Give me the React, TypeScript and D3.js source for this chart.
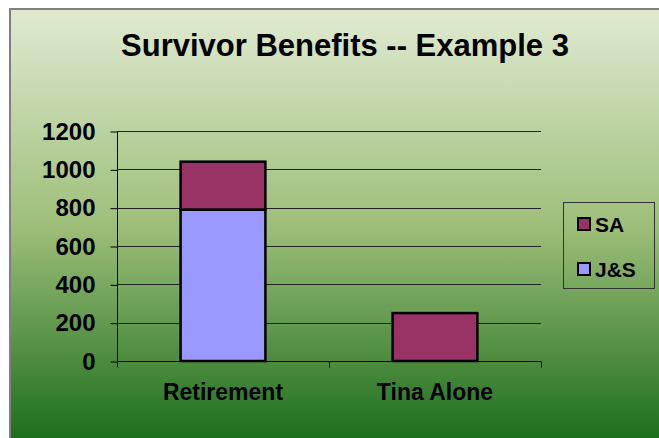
import React, { useEffect, useRef } from 'react';
import * as d3 from 'd3';

// chart data
const categories = ['Retirement', 'Tina Alone'];
const seriesNames = ['J&S', 'SA'];
const jsValues = [790, 0];
const saValues = [250, 250];
const yTicks = [0, 200, 400, 600, 800, 1000, 1200];
const legendItems = ['SA', 'J&S'];
const title = 'Survivor Benefits -- Example 3';

const seriesColors: Record<string, string> = { 'J&S': '#9999ff', SA: '#993366' };

const App = () => {
  const svgRef = useRef<SVGSVGElement | null>(null);

  useEffect(() => {
    const svg = d3.select(svgRef.current);
    svg.selectAll('*').remove();

    const width = 659;
    const height = 438;
    const plot = { left: 117, right: 541, top: 131, bottom: 361 };
    const font = 'Arial, "Liberation Sans", sans-serif';

    // background gradient
    const defs = svg.append('defs');
    const grad = defs.append('linearGradient')
      .attr('id', 'bg')
      .attr('x1', 0).attr('y1', 0).attr('x2', 0).attr('y2', 1);
    grad.append('stop').attr('offset', '0%').attr('stop-color', '#e0ead2');
    grad.append('stop').attr('offset', '50%').attr('stop-color', '#9ebf7a');
    grad.append('stop').attr('offset', '100%').attr('stop-color', '#1d6e1d');

    svg.append('rect')
      .attr('x', 10).attr('y', 9)
      .attr('width', width - 9).attr('height', height - 8)
      .attr('fill', 'url(#bg)')
      .attr('stroke', '#808080')
      .attr('stroke-width', 2);

    // title
    svg.append('text')
      .attr('x', 345)
      .attr('y', 56)
      .attr('text-anchor', 'middle')
      .style('font-family', font)
      .style('font-weight', 'bold')
      .style('font-size', '31px')
      .text(title);

    // scales
    const x = d3.scaleBand()
      .domain(categories)
      .range([plot.left, plot.right])
      .paddingInner(0)
      .paddingOuter(0);

    const y = d3.scaleLinear()
      .domain([0, 1200])
      .range([plot.bottom, plot.top]);

    const g = svg.append('g');

    // gridlines
    g.selectAll('.grid')
      .data(yTicks.filter(t => t > 0))
      .enter()
      .append('line')
      .attr('x1', plot.left)
      .attr('x2', plot.right)
      .attr('y1', d => Math.round(y(d)) + 0.5)
      .attr('y2', d => Math.round(y(d)) + 0.5)
      .attr('stroke', '#222')
      .attr('stroke-width', 1);

    // y axis
    const yAxis = d3.axisLeft(y)
      .tickValues(yTicks)
      .tickSize(7)
      .tickPadding(15)
      .tickFormat(d3.format('d'));
    const yg = g.append('g')
      .attr('transform', `translate(${plot.left + 0.5},0.5)`)
      .call(yAxis);
    yg.selectAll('line, path').attr('stroke', '#000');
    yg.select('.domain').attr('d', `M0,${plot.top}V${plot.bottom}`);
    yg.selectAll('text')
      .style('font-family', font)
      .style('font-weight', 'bold')
      .style('font-size', '24px')
      .attr('fill', '#000');

    // x axis
    const xAxis = d3.axisBottom(x).tickSize(0);
    const xg = g.append('g')
      .attr('transform', `translate(0,${plot.bottom + 0.5})`)
      .call(xAxis);
    xg.select('.domain').attr('stroke', '#000').attr('d', `M${plot.left},0H${plot.right}`);
    xg.selectAll('text')
      .attr('y', 38)
      .attr('dy', 0)
      .style('font-family', font)
      .style('font-weight', 'bold')
      .style('font-size', '23px')
      .attr('fill', '#000');
    // category boundary ticks
    const bounds = [plot.left, ...categories.map(c => (x(c) as number) + x.bandwidth())];
    xg.selectAll('.bound')
      .data(bounds)
      .enter()
      .append('line')
      .attr('x1', d => d + 0.5)
      .attr('x2', d => d + 0.5)
      .attr('y1', 0)
      .attr('y2', 6)
      .attr('stroke', '#000');

    // stacked bars
    const rows = categories.map((c, i) => ({ category: c, 'J&S': jsValues[i], SA: saValues[i] }));
    const stack = d3.stack<any>().keys(seriesNames);
    const layers = stack(rows);
    const barWidth = x.bandwidth() / 2.5;

    layers.forEach(layer => {
      g.selectAll(`.bar-${layer.index}`)
        .data(layer.filter(d => d[1] - d[0] > 0))
        .enter()
        .append('rect')
        .attr('x', d => (x(d.data.category) as number) + (x.bandwidth() - barWidth) / 2)
        .attr('y', d => y(d[1]))
        .attr('width', barWidth)
        .attr('height', d => y(d[0]) - y(d[1]))
        .attr('fill', seriesColors[layer.key])
        .attr('stroke', '#000')
        .attr('stroke-width', 2.5);
    });

    // legend
    const legend = svg.append('g');
    legend.append('rect')
      .attr('x', 563.5).attr('y', 202.5)
      .attr('width', 91).attr('height', 86)
      .attr('fill', 'none')
      .attr('stroke', '#333')
      .attr('stroke-width', 1);
    legendItems.forEach((name, i) => {
      const cy = 224 + i * 45;
      legend.append('rect')
        .attr('x', 578).attr('y', cy - 6)
        .attr('width', 12).attr('height', 12)
        .attr('fill', seriesColors[name])
        .attr('stroke', '#000')
        .attr('stroke-width', 2);
      legend.append('text')
        .attr('x', 595)
        .attr('y', cy + 7.5)
        .style('font-family', font)
        .style('font-weight', 'bold')
        .style('font-size', '21px')
        .text(name);
    });
  }, []);

  return (
    <svg
      ref={svgRef}
      width={659}
      height={438}
      style={{ position: 'absolute', left: 0, top: 0, display: 'block' }}
    />
  );
};

export default App;
